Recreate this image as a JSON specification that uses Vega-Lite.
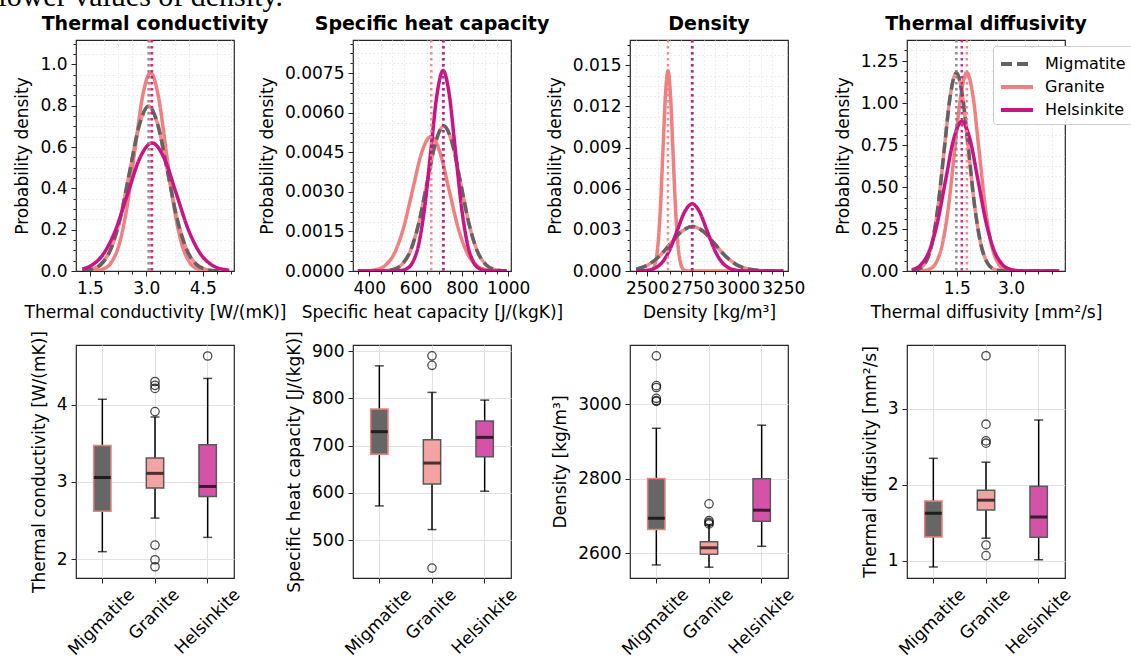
{
"$schema": "https://vega.github.io/schema/vega-lite/v6.json",
"title": {"text": "lower values of density.", "font": "Liberation Serif", "fontSize": 30, "fontWeight": "normal", "color": "black", "anchor": "start", "frame": "bounds", "dx": -15, "offset": 3},
"padding": {"left": -2, "top": -19, "right": 5, "bottom": 5},
"columns": 4,
"spacing": {"row": 74, "column": 119},
"bounds": "flush",
"resolve": {"scale": {"x": "independent", "y": "independent", "color": "independent", "strokeDash": "independent", "fill": "independent", "stroke": "independent"}},
"config": {
  "font": "DejaVu Sans",
  "view": {"stroke": "#262626", "strokeWidth": 1.2},
  "axis": {"labelFontSize": 17, "titleFontSize": 17, "titleFontWeight": "normal", "labelColor": "#000000", "titleColor": "#000000", "labelFont": "DejaVu Sans", "titleFont": "DejaVu Sans", "domain": false, "tickColor": "#262626", "tickSize": 5, "labelPadding": 4, "gridColor": "#e2e2e2", "titlePadding": 8, "labelOverlap": false, "labelFlush": false},
  "title": {"fontSize": 19, "fontWeight": "bold", "font": "DejaVu Sans", "color": "#000000", "offset": 4.5},
  "legend": {"labelFont": "DejaVu Sans"}
},
"concat": [
{
 "title": "Thermal conductivity",
 "width": 158, "height": 231,
 "data": {"name": "tc_pdf"},
 "resolve": {"axis": {"x": "independent", "y": "independent"}},
 "layer": [
  {"transform": [{"filter": "datum.rock === 'Migmatite'"}],
   "mark": {"type": "line", "interpolate": "monotone", "strokeWidth": 3.5, "color": "#F08080", "opacity": 0.9, "clip": true},
   "encoding": {
    "x": {"field": "x", "type": "quantitative", "scale": {"domain": [1.13, 5.33], "nice": false, "zero": false},
     "axis": {"orient": "bottom", "title": null, "labels": false, "values": [1.875,2.25,2.625,3.375,3.75,4.125,4.875,5.25], "tickSize": 3, "gridDash": [1.5,2.5], "gridColor": "#e8e8e8"}},
    "y": {"field": "y", "type": "quantitative", "scale": {"domain": [0, 1.118], "nice": false},
     "axis": {"orient": "left", "title": null, "labels": false, "values": [0.05,0.1,0.15,0.25,0.3,0.35,0.45,0.5,0.55,0.65,0.7,0.75,0.85,0.9,0.95,1.05,1.1], "tickSize": 3, "gridDash": [1.5,2.5], "gridColor": "#e8e8e8"}}
   }},
  {"mark": {"type": "line", "interpolate": "monotone", "strokeWidth": 3.5, "clip": true},
   "encoding": {
    "x": {"field": "x", "type": "quantitative", "scale": {"domain": [1.13, 5.33], "nice": false, "zero": false},
     "axis": {"orient": "bottom", "title": "Thermal conductivity [W/(mK)]", "values": [1.5,3,4.5], "format": ".1f"}},
    "y": {"field": "y", "type": "quantitative", "scale": {"domain": [0, 1.118], "nice": false},
     "axis": {"orient": "left", "title": "Probability density", "values": [0,0.2,0.4,0.6,0.8,1.0], "format": ".1f"}},
    "color": {"field": "rock", "type": "nominal", "scale": {"domain": ["Migmatite","Granite","Helsinkite"], "range": ["#636363","#F08080","#C71585"]}, "legend": null},
    "strokeDash": {"field": "rock", "type": "nominal", "scale": {"domain": ["Migmatite","Granite","Helsinkite"], "range": [[11,5],[1,0],[1,0]]}, "legend": null}
   }},
  {"data": {"name": "means"}, "transform": [{"filter": "datum.panel === 'tc'"}],
   "mark": {"type": "rule", "strokeWidth": 2.5, "strokeDash": [2.5, 3.5], "opacity": 0.9},
   "encoding": {
    "x": {"field": "x", "type": "quantitative", "scale": {"domain": [1.13, 5.33], "nice": false, "zero": false}, "axis": null},
    "stroke": {"field": "rock", "type": "nominal", "scale": {"domain": ["Migmatite","Granite","Helsinkite"], "range": ["#808080","#F08080","#C71585"]}, "legend": null}
   }}
 ]
},
{
 "title": "Specific heat capacity",
 "width": 158, "height": 231,
 "data": {"name": "cp_pdf"},
 "resolve": {"axis": {"x": "independent", "y": "independent"}},
 "layer": [
  {"transform": [{"filter": "datum.rock === 'Migmatite'"}],
   "mark": {"type": "line", "interpolate": "monotone", "strokeWidth": 3.5, "color": "#F08080", "opacity": 0.9, "clip": true},
   "encoding": {
    "x": {"field": "x", "type": "quantitative", "scale": {"domain": [330, 1012], "nice": false, "zero": false},
     "axis": {"orient": "bottom", "title": null, "labels": false, "values": [350,450,500,550,650,700,750,850,900,950], "tickSize": 3, "gridDash": [1.5,2.5], "gridColor": "#e8e8e8"}},
    "y": {"field": "y", "type": "quantitative", "scale": {"domain": [0, 0.00876], "nice": false},
     "axis": {"orient": "left", "title": null, "labels": false, "values": [0.000375,0.00075,0.001125,0.001875,0.00225,0.002625,0.003375,0.00375,0.004125,0.004875,0.00525,0.005625,0.006375,0.00675,0.007125,0.007875,0.00825,0.008625], "tickSize": 3, "gridDash": [1.5,2.5], "gridColor": "#e8e8e8"}}
   }},
  {"mark": {"type": "line", "interpolate": "monotone", "strokeWidth": 3.5, "clip": true},
   "encoding": {
    "x": {"field": "x", "type": "quantitative", "scale": {"domain": [330, 1012], "nice": false, "zero": false},
     "axis": {"orient": "bottom", "title": "Specific heat capacity [J/(kgK)]", "values": [400,600,800,1000], "format": "d"}},
    "y": {"field": "y", "type": "quantitative", "scale": {"domain": [0, 0.00876], "nice": false},
     "axis": {"orient": "left", "title": "Probability density", "values": [0,0.0015,0.003,0.0045,0.006,0.0075], "format": ".4f"}},
    "color": {"field": "rock", "type": "nominal", "scale": {"domain": ["Migmatite","Granite","Helsinkite"], "range": ["#636363","#F08080","#C71585"]}, "legend": null},
    "strokeDash": {"field": "rock", "type": "nominal", "scale": {"domain": ["Migmatite","Granite","Helsinkite"], "range": [[11,5],[1,0],[1,0]]}, "legend": null}
   }},
  {"data": {"name": "means"}, "transform": [{"filter": "datum.panel === 'cp'"}],
   "mark": {"type": "rule", "strokeWidth": 2.5, "strokeDash": [2.5, 3.5], "opacity": 0.9},
   "encoding": {
    "x": {"field": "x", "type": "quantitative", "scale": {"domain": [330, 1012], "nice": false, "zero": false}, "axis": null},
    "stroke": {"field": "rock", "type": "nominal", "scale": {"domain": ["Migmatite","Granite","Helsinkite"], "range": ["#808080","#F08080","#C71585"]}, "legend": null}
   }}
 ]
},
{
 "title": "Density",
 "width": 158, "height": 231,
 "data": {"name": "rho_pdf"},
 "resolve": {"axis": {"x": "independent", "y": "independent"}},
 "layer": [
  {"transform": [{"filter": "datum.rock === 'Migmatite'"}],
   "mark": {"type": "line", "interpolate": "monotone", "strokeWidth": 3.5, "color": "#F08080", "opacity": 0.9, "clip": true},
   "encoding": {
    "x": {"field": "x", "type": "quantitative", "scale": {"domain": [2406, 3276], "nice": false, "zero": false},
     "axis": {"orient": "bottom", "title": null, "labels": false, "values": [2437.5,2562.5,2625,2687.5,2812.5,2875,2937.5,3062.5,3125,3187.5], "tickSize": 3, "gridDash": [1.5,2.5], "gridColor": "#e8e8e8"}},
    "y": {"field": "y", "type": "quantitative", "scale": {"domain": [0, 0.01685], "nice": false},
     "axis": {"orient": "left", "title": null, "labels": false, "values": [0.00075,0.0015,0.00225,0.00375,0.0045,0.00525,0.00675,0.0075,0.00825,0.00975,0.0105,0.01125,0.01275,0.0135,0.01425,0.01575,0.0165], "tickSize": 3, "gridDash": [1.5,2.5], "gridColor": "#e8e8e8"}}
   }},
  {"mark": {"type": "line", "interpolate": "monotone", "strokeWidth": 3.5, "clip": true},
   "encoding": {
    "x": {"field": "x", "type": "quantitative", "scale": {"domain": [2406, 3276], "nice": false, "zero": false},
     "axis": {"orient": "bottom", "title": "Density [kg/m³]", "values": [2500,2750,3000,3250], "format": "d"}},
    "y": {"field": "y", "type": "quantitative", "scale": {"domain": [0, 0.01685], "nice": false},
     "axis": {"orient": "left", "title": "Probability density", "values": [0,0.003,0.006,0.009,0.012,0.015], "format": ".3f"}},
    "color": {"field": "rock", "type": "nominal", "scale": {"domain": ["Migmatite","Granite","Helsinkite"], "range": ["#636363","#F08080","#C71585"]}, "legend": null},
    "strokeDash": {"field": "rock", "type": "nominal", "scale": {"domain": ["Migmatite","Granite","Helsinkite"], "range": [[11,5],[1,0],[1,0]]}, "legend": null}
   }},
  {"data": {"name": "means"}, "transform": [{"filter": "datum.panel === 'rho'"}],
   "mark": {"type": "rule", "strokeWidth": 2.5, "strokeDash": [2.5, 3.5], "opacity": 0.9},
   "encoding": {
    "x": {"field": "x", "type": "quantitative", "scale": {"domain": [2406, 3276], "nice": false, "zero": false}, "axis": null},
    "stroke": {"field": "rock", "type": "nominal", "scale": {"domain": ["Migmatite","Granite","Helsinkite"], "range": ["#808080","#F08080","#C71585"]}, "legend": null}
   }}
 ]
},
{
 "title": "Thermal diffusivity",
 "width": 158, "height": 231,
 "data": {"name": "td_pdf"},
 "resolve": {"axis": {"x": "independent", "y": "independent"}},
 "layer": [
  {"transform": [{"filter": "datum.rock === 'Migmatite'"}],
   "mark": {"type": "line", "interpolate": "monotone", "strokeWidth": 3.5, "color": "#F08080", "opacity": 0.9, "clip": true},
   "encoding": {
    "x": {"field": "x", "type": "quantitative", "scale": {"domain": [0.127, 4.49], "nice": false, "zero": false},
     "axis": {"orient": "bottom", "title": null, "labels": false, "values": [0.375,0.75,1.125,1.875,2.25,2.625,3.375,3.75,4.125], "tickSize": 3, "gridDash": [1.5,2.5], "gridColor": "#e8e8e8"}},
    "y": {"field": "y", "type": "quantitative", "scale": {"domain": [0, 1.375], "nice": false},
     "axis": {"orient": "left", "title": null, "labels": false, "values": [0.0625,0.125,0.1875,0.3125,0.375,0.4375,0.5625,0.625,0.6875,0.8125,0.875,0.9375,1.0625,1.125,1.1875,1.3125], "tickSize": 3, "gridDash": [1.5,2.5], "gridColor": "#e8e8e8"}}
   }},
  {"mark": {"type": "line", "interpolate": "monotone", "strokeWidth": 3.5, "clip": true},
   "encoding": {
    "x": {"field": "x", "type": "quantitative", "scale": {"domain": [0.127, 4.49], "nice": false, "zero": false},
     "axis": {"orient": "bottom", "title": "Thermal diffusivity [mm²/s]", "values": [1.5,3], "format": ".1f"}},
    "y": {"field": "y", "type": "quantitative", "scale": {"domain": [0, 1.375], "nice": false},
     "axis": {"orient": "left", "title": "Probability density", "values": [0,0.25,0.5,0.75,1.0,1.25], "format": ".2f"}},
    "color": {"field": "rock", "type": "nominal", "scale": {"domain": ["Migmatite","Granite","Helsinkite"], "range": ["#636363","#F08080","#C71585"]},
     "legend": {"orient": "none", "legendX": 86, "legendY": 6, "title": null, "symbolType": "M-1.6,0L1.6,0", "symbolStrokeWidth": 4, "symbolSize": 400, "symbolOffset": 6, "labelFontSize": 16, "strokeColor": "#cccccc", "fillColor": "white", "padding": 6, "rowPadding": 3, "cornerRadius": 3, "labelOffset": 16}},
    "strokeDash": {"field": "rock", "type": "nominal", "scale": {"domain": ["Migmatite","Granite","Helsinkite"], "range": [[11,5],[1,0],[1,0]]},
     "legend": {"orient": "none", "legendX": 86, "legendY": 6, "title": null, "symbolType": "M-1.6,0L1.6,0", "symbolStrokeWidth": 4, "symbolSize": 400, "symbolOffset": 6, "labelFontSize": 16, "strokeColor": "#cccccc", "fillColor": "white", "padding": 6, "rowPadding": 3, "cornerRadius": 3, "labelOffset": 16}}
   }},
  {"data": {"name": "means"}, "transform": [{"filter": "datum.panel === 'td'"}],
   "mark": {"type": "rule", "strokeWidth": 2.5, "strokeDash": [2.5, 3.5], "opacity": 0.9},
   "encoding": {
    "x": {"field": "x", "type": "quantitative", "scale": {"domain": [0.127, 4.49], "nice": false, "zero": false}, "axis": null},
    "stroke": {"field": "rock", "type": "nominal", "scale": {"domain": ["Migmatite","Granite","Helsinkite"], "range": ["#808080","#F08080","#C71585"]}, "legend": null}
   }}
 ]
},
{
 "width": 158, "height": 233,
 "data": {"name": "box"},
 "transform": [{"filter": "datum.panel === 'tc'"}],
 "layer": [
  {"mark": {"type": "rule", "color": "black", "strokeWidth": 1.5},
   "encoding": {
    "x": {"field": "rock", "type": "nominal", "scale": {"type": "band", "domain": ["Migmatite","Granite","Helsinkite"], "paddingInner": 0, "paddingOuter": 0},
     "axis": {"title": null, "labelAngle": -45, "labelAlign": "right", "labelBaseline": "top", "labelOffset": {"condition": {"test": "datum.value === 'Granite'", "value": 16}, "value": 24}, "bandPosition": 0.5, "grid": true, "labelPadding": 3}},
    "y": {"field": "lo", "type": "quantitative", "title": "Thermal conductivity [W/(mK)]", "scale": {"domain": [1.754, 4.773], "nice": false, "zero": false}, "axis": {"values": [2,3,4], "format": "d", "grid": true}},
    "y2": {"field": "hi"}
   }},
  {"mark": {"type": "tick", "color": "black", "size": 9, "thickness": 1.5},
   "encoding": {"x": {"field": "rock", "type": "nominal"}, "y": {"field": "lo", "type": "quantitative", "title": "Thermal conductivity [W/(mK)]"}}},
  {"mark": {"type": "tick", "color": "black", "size": 9, "thickness": 1.5},
   "encoding": {"x": {"field": "rock", "type": "nominal"}, "y": {"field": "hi", "type": "quantitative", "title": "Thermal conductivity [W/(mK)]"}}},
  {"mark": {"type": "bar", "width": {"band": 0.33}, "strokeWidth": 1.5},
   "encoding": {"x": {"field": "rock", "type": "nominal"}, "y": {"field": "q1", "type": "quantitative", "title": "Thermal conductivity [W/(mK)]"}, "y2": {"field": "q3"},
    "fill": {"field": "rock", "type": "nominal", "scale": {"domain": ["Migmatite","Granite","Helsinkite"], "range": ["#666666","#F4A3A3","#D452A8"]}, "legend": null},
    "stroke": {"field": "rock", "type": "nominal", "scale": {"domain": ["Migmatite","Granite","Helsinkite"], "range": ["#F08080","#5a5a5a","#5a5a5a"]}, "legend": null}}},
  {"mark": {"type": "tick", "color": "black", "size": 17, "thickness": 3},
   "encoding": {"x": {"field": "rock", "type": "nominal"}, "y": {"field": "med", "type": "quantitative", "title": "Thermal conductivity [W/(mK)]"}}},
  {"data": {"name": "out"}, "transform": [{"filter": "datum.panel === 'tc'"}],
   "mark": {"type": "point", "shape": "circle", "filled": false, "color": "black", "size": 70, "strokeWidth": 1.3},
   "encoding": {"x": {"field": "rock", "type": "nominal"}, "y": {"field": "v", "type": "quantitative", "title": "Thermal conductivity [W/(mK)]"}}}
 ]
},
{
 "width": 158, "height": 233,
 "data": {"name": "box"},
 "transform": [{"filter": "datum.panel === 'cp'"}],
 "layer": [
  {"mark": {"type": "rule", "color": "black", "strokeWidth": 1.5},
   "encoding": {
    "x": {"field": "rock", "type": "nominal", "scale": {"type": "band", "domain": ["Migmatite","Granite","Helsinkite"], "paddingInner": 0, "paddingOuter": 0},
     "axis": {"title": null, "labelAngle": -45, "labelAlign": "right", "labelBaseline": "top", "labelOffset": {"condition": {"test": "datum.value === 'Granite'", "value": 16}, "value": 24}, "bandPosition": 0.5, "grid": true, "labelPadding": 3}},
    "y": {"field": "lo", "type": "quantitative", "title": "Specific heat capacity [J/(kgK)]", "scale": {"domain": [420, 913], "nice": false, "zero": false}, "axis": {"values": [500,600,700,800,900], "format": "d", "grid": true}},
    "y2": {"field": "hi"}
   }},
  {"mark": {"type": "tick", "color": "black", "size": 9, "thickness": 1.5},
   "encoding": {"x": {"field": "rock", "type": "nominal"}, "y": {"field": "lo", "type": "quantitative", "title": "Specific heat capacity [J/(kgK)]"}}},
  {"mark": {"type": "tick", "color": "black", "size": 9, "thickness": 1.5},
   "encoding": {"x": {"field": "rock", "type": "nominal"}, "y": {"field": "hi", "type": "quantitative", "title": "Specific heat capacity [J/(kgK)]"}}},
  {"mark": {"type": "bar", "width": {"band": 0.33}, "strokeWidth": 1.5},
   "encoding": {"x": {"field": "rock", "type": "nominal"}, "y": {"field": "q1", "type": "quantitative", "title": "Specific heat capacity [J/(kgK)]"}, "y2": {"field": "q3"},
    "fill": {"field": "rock", "type": "nominal", "scale": {"domain": ["Migmatite","Granite","Helsinkite"], "range": ["#666666","#F4A3A3","#D452A8"]}, "legend": null},
    "stroke": {"field": "rock", "type": "nominal", "scale": {"domain": ["Migmatite","Granite","Helsinkite"], "range": ["#F08080","#5a5a5a","#5a5a5a"]}, "legend": null}}},
  {"mark": {"type": "tick", "color": "black", "size": 17, "thickness": 3},
   "encoding": {"x": {"field": "rock", "type": "nominal"}, "y": {"field": "med", "type": "quantitative", "title": "Specific heat capacity [J/(kgK)]"}}},
  {"data": {"name": "out"}, "transform": [{"filter": "datum.panel === 'cp'"}],
   "mark": {"type": "point", "shape": "circle", "filled": false, "color": "black", "size": 70, "strokeWidth": 1.3},
   "encoding": {"x": {"field": "rock", "type": "nominal"}, "y": {"field": "v", "type": "quantitative", "title": "Specific heat capacity [J/(kgK)]"}}}
 ]
},
{
 "width": 158, "height": 233,
 "data": {"name": "box"},
 "transform": [{"filter": "datum.panel === 'rho'"}],
 "layer": [
  {"mark": {"type": "rule", "color": "black", "strokeWidth": 1.5},
   "encoding": {
    "x": {"field": "rock", "type": "nominal", "scale": {"type": "band", "domain": ["Migmatite","Granite","Helsinkite"], "paddingInner": 0, "paddingOuter": 0},
     "axis": {"title": null, "labelAngle": -45, "labelAlign": "right", "labelBaseline": "top", "labelOffset": {"condition": {"test": "datum.value === 'Granite'", "value": 16}, "value": 24}, "bandPosition": 0.5, "grid": true, "labelPadding": 3}},
    "y": {"field": "lo", "type": "quantitative", "title": "Density [kg/m³]", "scale": {"domain": [2534, 3159], "nice": false, "zero": false}, "axis": {"values": [2600,2800,3000], "format": "d", "grid": true}},
    "y2": {"field": "hi"}
   }},
  {"mark": {"type": "tick", "color": "black", "size": 9, "thickness": 1.5},
   "encoding": {"x": {"field": "rock", "type": "nominal"}, "y": {"field": "lo", "type": "quantitative", "title": "Density [kg/m³]"}}},
  {"mark": {"type": "tick", "color": "black", "size": 9, "thickness": 1.5},
   "encoding": {"x": {"field": "rock", "type": "nominal"}, "y": {"field": "hi", "type": "quantitative", "title": "Density [kg/m³]"}}},
  {"mark": {"type": "bar", "width": {"band": 0.33}, "strokeWidth": 1.5},
   "encoding": {"x": {"field": "rock", "type": "nominal"}, "y": {"field": "q1", "type": "quantitative", "title": "Density [kg/m³]"}, "y2": {"field": "q3"},
    "fill": {"field": "rock", "type": "nominal", "scale": {"domain": ["Migmatite","Granite","Helsinkite"], "range": ["#666666","#F4A3A3","#D452A8"]}, "legend": null},
    "stroke": {"field": "rock", "type": "nominal", "scale": {"domain": ["Migmatite","Granite","Helsinkite"], "range": ["#F08080","#5a5a5a","#5a5a5a"]}, "legend": null}}},
  {"mark": {"type": "tick", "color": "black", "size": 17, "thickness": 3},
   "encoding": {"x": {"field": "rock", "type": "nominal"}, "y": {"field": "med", "type": "quantitative", "title": "Density [kg/m³]"}}},
  {"data": {"name": "out"}, "transform": [{"filter": "datum.panel === 'rho'"}],
   "mark": {"type": "point", "shape": "circle", "filled": false, "color": "black", "size": 70, "strokeWidth": 1.3},
   "encoding": {"x": {"field": "rock", "type": "nominal"}, "y": {"field": "v", "type": "quantitative", "title": "Density [kg/m³]"}}}
 ]
},
{
 "width": 158, "height": 233,
 "data": {"name": "box"},
 "transform": [{"filter": "datum.panel === 'td'"}],
 "layer": [
  {"mark": {"type": "rule", "color": "black", "strokeWidth": 1.5},
   "encoding": {
    "x": {"field": "rock", "type": "nominal", "scale": {"type": "band", "domain": ["Migmatite","Granite","Helsinkite"], "paddingInner": 0, "paddingOuter": 0},
     "axis": {"title": null, "labelAngle": -45, "labelAlign": "right", "labelBaseline": "top", "labelOffset": {"condition": {"test": "datum.value === 'Granite'", "value": 16}, "value": 24}, "bandPosition": 0.5, "grid": true, "labelPadding": 3}},
    "y": {"field": "lo", "type": "quantitative", "title": "Thermal diffusivity [mm²/s]", "scale": {"domain": [0.776, 3.842], "nice": false, "zero": false}, "axis": {"values": [1,2,3], "format": "d", "grid": true}},
    "y2": {"field": "hi"}
   }},
  {"mark": {"type": "tick", "color": "black", "size": 9, "thickness": 1.5},
   "encoding": {"x": {"field": "rock", "type": "nominal"}, "y": {"field": "lo", "type": "quantitative", "title": "Thermal diffusivity [mm²/s]"}}},
  {"mark": {"type": "tick", "color": "black", "size": 9, "thickness": 1.5},
   "encoding": {"x": {"field": "rock", "type": "nominal"}, "y": {"field": "hi", "type": "quantitative", "title": "Thermal diffusivity [mm²/s]"}}},
  {"mark": {"type": "bar", "width": {"band": 0.33}, "strokeWidth": 1.5},
   "encoding": {"x": {"field": "rock", "type": "nominal"}, "y": {"field": "q1", "type": "quantitative", "title": "Thermal diffusivity [mm²/s]"}, "y2": {"field": "q3"},
    "fill": {"field": "rock", "type": "nominal", "scale": {"domain": ["Migmatite","Granite","Helsinkite"], "range": ["#666666","#F4A3A3","#D452A8"]}, "legend": null},
    "stroke": {"field": "rock", "type": "nominal", "scale": {"domain": ["Migmatite","Granite","Helsinkite"], "range": ["#F08080","#5a5a5a","#5a5a5a"]}, "legend": null}}},
  {"mark": {"type": "tick", "color": "black", "size": 17, "thickness": 3},
   "encoding": {"x": {"field": "rock", "type": "nominal"}, "y": {"field": "med", "type": "quantitative", "title": "Thermal diffusivity [mm²/s]"}}},
  {"data": {"name": "out"}, "transform": [{"filter": "datum.panel === 'td'"}],
   "mark": {"type": "point", "shape": "circle", "filled": false, "color": "black", "size": 70, "strokeWidth": 1.3},
   "encoding": {"x": {"field": "rock", "type": "nominal"}, "y": {"field": "v", "type": "quantitative", "title": "Thermal diffusivity [mm²/s]"}}}
 ]
}
],
"datasets": {
 "tc_pdf": [
  {"rock":"Granite","x":1.3,"y":0.0001},{"rock":"Granite","x":1.448,"y":0.0003},{"rock":"Granite","x":1.656,"y":0.0021},{"rock":"Granite","x":1.864,"y":0.0107},{"rock":"Granite","x":2.071,"y":0.0422},{"rock":"Granite","x":2.279,"y":0.1299},{"rock":"Granite","x":2.487,"y":0.3117},{"rock":"Granite","x":2.694,"y":0.5822},{"rock":"Granite","x":2.902,"y":0.8472},{"rock":"Granite","x":3.11,"y":0.96},{"rock":"Granite","x":3.318,"y":0.8472},{"rock":"Granite","x":3.526,"y":0.5822},{"rock":"Granite","x":3.733,"y":0.3117},{"rock":"Granite","x":3.941,"y":0.1299},{"rock":"Granite","x":4.149,"y":0.0422},{"rock":"Granite","x":4.357,"y":0.0107},{"rock":"Granite","x":4.564,"y":0.0021},{"rock":"Granite","x":4.772,"y":0.0003},{"rock":"Granite","x":5.2,"y":0},
  {"rock":"Migmatite","x":1.3,"y":0.0016},{"rock":"Migmatite","x":1.56,"y":0.0089},{"rock":"Migmatite","x":1.81,"y":0.0351},{"rock":"Migmatite","x":2.06,"y":0.108},{"rock":"Migmatite","x":2.31,"y":0.2591},{"rock":"Migmatite","x":2.56,"y":0.484},{"rock":"Migmatite","x":2.81,"y":0.7042},{"rock":"Migmatite","x":3.06,"y":0.798},{"rock":"Migmatite","x":3.31,"y":0.7042},{"rock":"Migmatite","x":3.56,"y":0.484},{"rock":"Migmatite","x":3.81,"y":0.2591},{"rock":"Migmatite","x":4.06,"y":0.108},{"rock":"Migmatite","x":4.31,"y":0.0351},{"rock":"Migmatite","x":4.56,"y":0.0089},{"rock":"Migmatite","x":4.81,"y":0.0017},{"rock":"Migmatite","x":5.06,"y":0.0003},{"rock":"Migmatite","x":5.2,"y":0.0001},
  {"rock":"Helsinkite","x":1.3,"y":0.0099},{"rock":"Helsinkite","x":1.543,"y":0.0272},{"rock":"Helsinkite","x":1.864,"y":0.0839},{"rock":"Helsinkite","x":2.186,"y":0.2013},{"rock":"Helsinkite","x":2.507,"y":0.376},{"rock":"Helsinkite","x":2.829,"y":0.5472},{"rock":"Helsinkite","x":3.15,"y":0.62},{"rock":"Helsinkite","x":3.471,"y":0.5472},{"rock":"Helsinkite","x":3.793,"y":0.376},{"rock":"Helsinkite","x":4.114,"y":0.2013},{"rock":"Helsinkite","x":4.436,"y":0.0839},{"rock":"Helsinkite","x":4.757,"y":0.0272},{"rock":"Helsinkite","x":5.079,"y":0.0069},{"rock":"Helsinkite","x":5.2,"y":0.0039}
 ],
 "cp_pdf": [
  {"rock":"Granite","x":351,"y":0.0000015},{"rock":"Granite","x":392.3,"y":0.0000112},{"rock":"Granite","x":431.4,"y":0.0000567},{"rock":"Granite","x":470.5,"y":0.000224},{"rock":"Granite","x":509.6,"y":0.00069},{"rock":"Granite","x":548.7,"y":0.001656},{"rock":"Granite","x":587.8,"y":0.003093},{"rock":"Granite","x":626.9,"y":0.004501},{"rock":"Granite","x":666,"y":0.0051},{"rock":"Granite","x":705.1,"y":0.004501},{"rock":"Granite","x":744.2,"y":0.003093},{"rock":"Granite","x":783.3,"y":0.001656},{"rock":"Granite","x":822.4,"y":0.00069},{"rock":"Granite","x":861.5,"y":0.000224},{"rock":"Granite","x":900.6,"y":0.0000567},{"rock":"Granite","x":939.7,"y":0.0000112},{"rock":"Granite","x":978.8,"y":0.0000017},{"rock":"Granite","x":993,"y":0.0000005},
  {"rock":"Migmatite","x":351,"y":0},{"rock":"Migmatite","x":432,"y":0.0000018},{"rock":"Migmatite","x":468.25,"y":0.000012},{"rock":"Migmatite","x":504.5,"y":0.0000611},{"rock":"Migmatite","x":540.75,"y":0.000242},{"rock":"Migmatite","x":577,"y":0.000744},{"rock":"Migmatite","x":613.25,"y":0.001786},{"rock":"Migmatite","x":649.5,"y":0.003336},{"rock":"Migmatite","x":685.75,"y":0.004854},{"rock":"Migmatite","x":722,"y":0.0055},{"rock":"Migmatite","x":758.25,"y":0.004854},{"rock":"Migmatite","x":794.5,"y":0.003336},{"rock":"Migmatite","x":830.75,"y":0.001786},{"rock":"Migmatite","x":867,"y":0.000744},{"rock":"Migmatite","x":903.25,"y":0.000242},{"rock":"Migmatite","x":939.5,"y":0.0000611},{"rock":"Migmatite","x":975.75,"y":0.000012},{"rock":"Migmatite","x":993,"y":0.0000051},
  {"rock":"Helsinkite","x":351,"y":0},{"rock":"Helsinkite","x":509,"y":0.0000025},{"rock":"Helsinkite","x":535.25,"y":0.0000166},{"rock":"Helsinkite","x":561.5,"y":0.0000844},{"rock":"Helsinkite","x":587.75,"y":0.000334},{"rock":"Helsinkite","x":614,"y":0.001028},{"rock":"Helsinkite","x":640.25,"y":0.002468},{"rock":"Helsinkite","x":666.5,"y":0.004609},{"rock":"Helsinkite","x":692.75,"y":0.006707},{"rock":"Helsinkite","x":719,"y":0.0076},{"rock":"Helsinkite","x":745.25,"y":0.006707},{"rock":"Helsinkite","x":771.5,"y":0.004609},{"rock":"Helsinkite","x":797.75,"y":0.002468},{"rock":"Helsinkite","x":824,"y":0.001028},{"rock":"Helsinkite","x":850.25,"y":0.000334},{"rock":"Helsinkite","x":876.5,"y":0.0000844},{"rock":"Helsinkite","x":902.75,"y":0.0000166},{"rock":"Helsinkite","x":929,"y":0.0000025},{"rock":"Helsinkite","x":993,"y":0}
 ],
 "rho_pdf": [
  {"rock":"Granite","x":2440,"y":0},{"rock":"Granite","x":2505.8,"y":0.0000049},{"rock":"Granite","x":2519.5,"y":0.0000319},{"rock":"Granite","x":2533.1,"y":0.000162},{"rock":"Granite","x":2546.8,"y":0.000642},{"rock":"Granite","x":2560.4,"y":0.001975},{"rock":"Granite","x":2574.1,"y":0.00474},{"rock":"Granite","x":2587.7,"y":0.008855},{"rock":"Granite","x":2601.4,"y":0.01288},{"rock":"Granite","x":2615,"y":0.0146},{"rock":"Granite","x":2628.7,"y":0.01288},{"rock":"Granite","x":2642.3,"y":0.008855},{"rock":"Granite","x":2656,"y":0.00474},{"rock":"Granite","x":2669.6,"y":0.001975},{"rock":"Granite","x":2683.3,"y":0.000642},{"rock":"Granite","x":2696.9,"y":0.000162},{"rock":"Granite","x":2710.5,"y":0.0000319},{"rock":"Granite","x":2724.2,"y":0.0000049},{"rock":"Granite","x":3250,"y":0},
  {"rock":"Migmatite","x":2440,"y":0.000134},{"rock":"Migmatite","x":2504.6,"y":0.00044},{"rock":"Migmatite","x":2566,"y":0.001055},{"rock":"Migmatite","x":2627.3,"y":0.001971},{"rock":"Migmatite","x":2688.7,"y":0.002868},{"rock":"Migmatite","x":2750,"y":0.00325},{"rock":"Migmatite","x":2811.4,"y":0.002868},{"rock":"Migmatite","x":2872.7,"y":0.001971},{"rock":"Migmatite","x":2934,"y":0.001055},{"rock":"Migmatite","x":2995.4,"y":0.00044},{"rock":"Migmatite","x":3056.8,"y":0.000143},{"rock":"Migmatite","x":3118,"y":0.0000361},{"rock":"Migmatite","x":3179.5,"y":0.0000071},{"rock":"Migmatite","x":3240.8,"y":0.0000011},{"rock":"Migmatite","x":3250,"y":0.0000008},
  {"rock":"Helsinkite","x":2440,"y":0.0000038},{"rock":"Helsinkite","x":2463.1,"y":0.0000107},{"rock":"Helsinkite","x":2503.8,"y":0.0000544},{"rock":"Helsinkite","x":2544.5,"y":0.000215},{"rock":"Helsinkite","x":2585.2,"y":0.000663},{"rock":"Helsinkite","x":2625.9,"y":0.001591},{"rock":"Helsinkite","x":2666.6,"y":0.002972},{"rock":"Helsinkite","x":2707.3,"y":0.004324},{"rock":"Helsinkite","x":2748,"y":0.0049},{"rock":"Helsinkite","x":2788.7,"y":0.004324},{"rock":"Helsinkite","x":2829.4,"y":0.002972},{"rock":"Helsinkite","x":2870.1,"y":0.001591},{"rock":"Helsinkite","x":2910.8,"y":0.000663},{"rock":"Helsinkite","x":2951.5,"y":0.000215},{"rock":"Helsinkite","x":2992.2,"y":0.0000544},{"rock":"Helsinkite","x":3032.9,"y":0.0000107},{"rock":"Helsinkite","x":3073.6,"y":0.0000016},{"rock":"Helsinkite","x":3250,"y":0}
 ],
 "td_pdf": [
  {"rock":"Granite","x":0.26,"y":0},{"rock":"Granite","x":0.428,"y":0.0004},{"rock":"Granite","x":0.597,"y":0.0026},{"rock":"Granite","x":0.766,"y":0.0131},{"rock":"Granite","x":0.935,"y":0.0519},{"rock":"Granite","x":1.104,"y":0.1597},{"rock":"Granite","x":1.273,"y":0.3831},{"rock":"Granite","x":1.442,"y":0.7157},{"rock":"Granite","x":1.611,"y":1.0414},{"rock":"Granite","x":1.78,"y":1.18},{"rock":"Granite","x":1.949,"y":1.0414},{"rock":"Granite","x":2.118,"y":0.7157},{"rock":"Granite","x":2.287,"y":0.3831},{"rock":"Granite","x":2.456,"y":0.1597},{"rock":"Granite","x":2.625,"y":0.0519},{"rock":"Granite","x":2.794,"y":0.0131},{"rock":"Granite","x":2.963,"y":0.0026},{"rock":"Granite","x":3.132,"y":0.0004},{"rock":"Granite","x":4.33,"y":0},
  {"rock":"Migmatite","x":0.26,"y":0.0016},{"rock":"Migmatite","x":0.307,"y":0.0026},{"rock":"Migmatite","x":0.476,"y":0.0131},{"rock":"Migmatite","x":0.645,"y":0.0519},{"rock":"Migmatite","x":0.814,"y":0.1597},{"rock":"Migmatite","x":0.983,"y":0.3831},{"rock":"Migmatite","x":1.152,"y":0.7157},{"rock":"Migmatite","x":1.321,"y":1.0414},{"rock":"Migmatite","x":1.49,"y":1.18},{"rock":"Migmatite","x":1.659,"y":1.0414},{"rock":"Migmatite","x":1.828,"y":0.7157},{"rock":"Migmatite","x":1.997,"y":0.3831},{"rock":"Migmatite","x":2.166,"y":0.1597},{"rock":"Migmatite","x":2.335,"y":0.0519},{"rock":"Migmatite","x":2.504,"y":0.0131},{"rock":"Migmatite","x":2.673,"y":0.0026},{"rock":"Migmatite","x":2.842,"y":0.0004},{"rock":"Migmatite","x":4.33,"y":0},
  {"rock":"Helsinkite","x":0.26,"y":0.0078},{"rock":"Helsinkite","x":0.296,"y":0.0099},{"rock":"Helsinkite","x":0.52,"y":0.0391},{"rock":"Helsinkite","x":0.744,"y":0.1204},{"rock":"Helsinkite","x":0.968,"y":0.289},{"rock":"Helsinkite","x":1.192,"y":0.5398},{"rock":"Helsinkite","x":1.416,"y":0.7854},{"rock":"Helsinkite","x":1.64,"y":0.89},{"rock":"Helsinkite","x":1.864,"y":0.7854},{"rock":"Helsinkite","x":2.088,"y":0.5398},{"rock":"Helsinkite","x":2.312,"y":0.289},{"rock":"Helsinkite","x":2.536,"y":0.1204},{"rock":"Helsinkite","x":2.76,"y":0.0391},{"rock":"Helsinkite","x":2.984,"y":0.0099},{"rock":"Helsinkite","x":3.208,"y":0.0019},{"rock":"Helsinkite","x":3.432,"y":0.0003},{"rock":"Helsinkite","x":3.656,"y":0.00004},{"rock":"Helsinkite","x":4.33,"y":0}
 ],
 "means": [
  {"panel":"tc","rock":"Migmatite","x":3.06},{"panel":"tc","rock":"Granite","x":3.11},{"panel":"tc","rock":"Helsinkite","x":3.15},
  {"panel":"cp","rock":"Migmatite","x":722},{"panel":"cp","rock":"Granite","x":668},{"panel":"cp","rock":"Helsinkite","x":719},
  {"panel":"rho","rock":"Migmatite","x":2750},{"panel":"rho","rock":"Granite","x":2615},{"panel":"rho","rock":"Helsinkite","x":2748},
  {"panel":"td","rock":"Migmatite","x":1.49},{"panel":"td","rock":"Granite","x":1.78},{"panel":"td","rock":"Helsinkite","x":1.64}
 ],
 "box": [
  {"panel":"tc","rock":"Migmatite","lo":2.095,"q1":2.62,"med":3.056,"q3":3.47,"hi":4.07},
  {"panel":"tc","rock":"Granite","lo":2.53,"q1":2.92,"med":3.11,"q3":3.31,"hi":3.84},
  {"panel":"tc","rock":"Helsinkite","lo":2.28,"q1":2.81,"med":2.94,"q3":3.48,"hi":4.34},
  {"panel":"cp","rock":"Migmatite","lo":572.5,"q1":681.6,"med":729.6,"q3":777.4,"hi":868.9},
  {"panel":"cp","rock":"Granite","lo":522.5,"q1":619,"med":663.2,"q3":712.7,"hi":812.7},
  {"panel":"cp","rock":"Helsinkite","lo":603.6,"q1":676.7,"med":717.6,"q3":752,"hi":796.4},
  {"panel":"rho","rock":"Migmatite","lo":2569,"q1":2664,"med":2694.5,"q3":2801,"hi":2935.6},
  {"panel":"rho","rock":"Granite","lo":2563,"q1":2598,"med":2615,"q3":2631,"hi":2676},
  {"panel":"rho","rock":"Helsinkite","lo":2619,"q1":2686,"med":2716,"q3":2800,"hi":2944},
  {"panel":"td","rock":"Migmatite","lo":0.921,"q1":1.316,"med":1.628,"q3":1.79,"hi":2.351},
  {"panel":"td","rock":"Granite","lo":1.3,"q1":1.67,"med":1.8,"q3":1.93,"hi":2.3},
  {"panel":"td","rock":"Helsinkite","lo":1.017,"q1":1.312,"med":1.579,"q3":1.983,"hi":2.855}
 ],
 "out": [
  {"panel":"tc","rock":"Granite","v":4.3},{"panel":"tc","rock":"Granite","v":4.25},{"panel":"tc","rock":"Granite","v":4.21},{"panel":"tc","rock":"Granite","v":3.91},{"panel":"tc","rock":"Granite","v":2.18},{"panel":"tc","rock":"Granite","v":1.99},{"panel":"tc","rock":"Granite","v":1.9},{"panel":"tc","rock":"Helsinkite","v":4.63},
  {"panel":"cp","rock":"Granite","v":890},{"panel":"cp","rock":"Granite","v":870},{"panel":"cp","rock":"Granite","v":441},
  {"panel":"rho","rock":"Migmatite","v":3130},{"panel":"rho","rock":"Migmatite","v":3050},{"panel":"rho","rock":"Migmatite","v":3045},{"panel":"rho","rock":"Migmatite","v":3016},{"panel":"rho","rock":"Migmatite","v":3010},{"panel":"rho","rock":"Migmatite","v":3008},{"panel":"rho","rock":"Granite","v":2733},{"panel":"rho","rock":"Granite","v":2688},{"panel":"rho","rock":"Granite","v":2683},{"panel":"rho","rock":"Granite","v":2679},
  {"panel":"td","rock":"Granite","v":3.7},{"panel":"td","rock":"Granite","v":2.8},{"panel":"td","rock":"Granite","v":2.58},{"panel":"td","rock":"Granite","v":2.55},{"panel":"td","rock":"Granite","v":1.21},{"panel":"td","rock":"Granite","v":1.07}
 ]
}
}
